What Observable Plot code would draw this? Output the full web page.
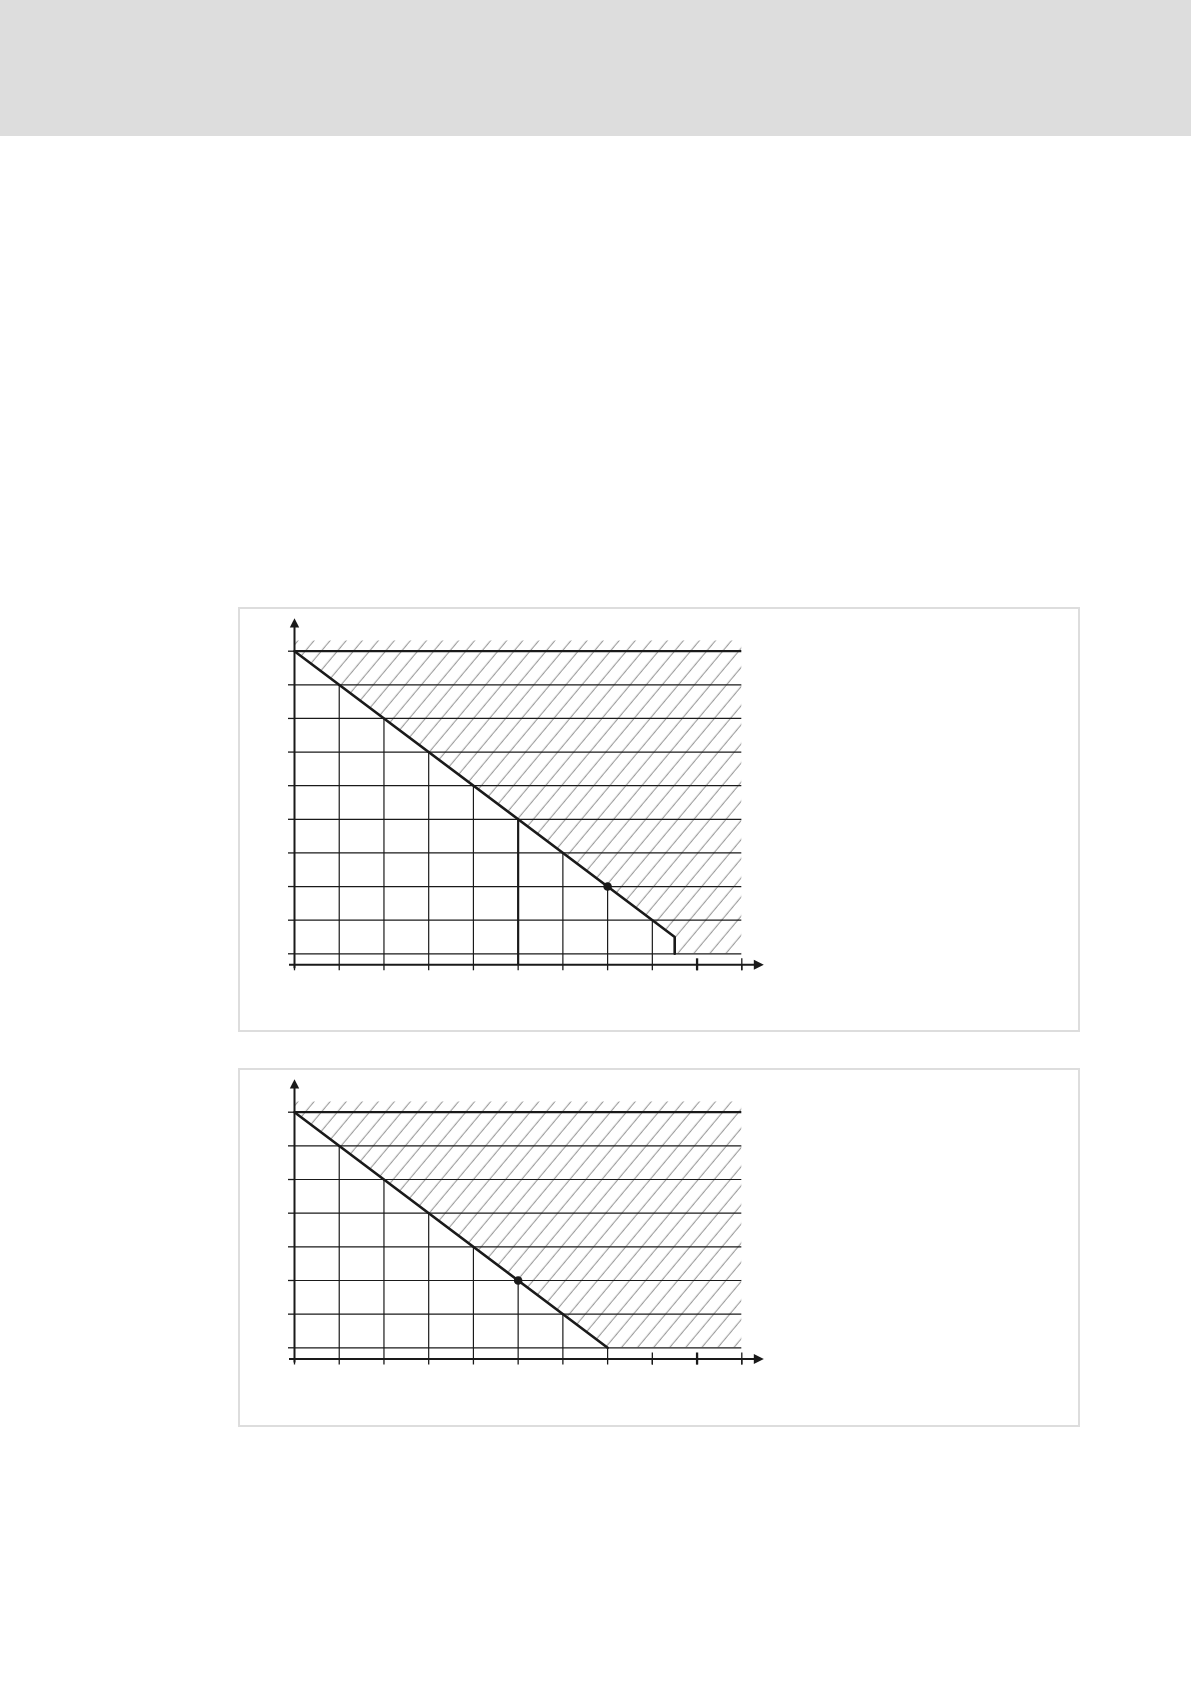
<!DOCTYPE html>
<html>
<head>
<meta charset="utf-8">
<script src="https://cdn.jsdelivr.net/npm/d3@7"></script>
<script src="https://cdn.jsdelivr.net/npm/@observablehq/plot@0.6"></script>
<style>
  html, body { margin: 0; padding: 0; background: #fff; }
  #page { position: relative; width: 1191px; height: 1685px; overflow: hidden; background: #fff; }
  #header { position: absolute; left: 0; top: 0; width: 1191px; height: 136px; background: #dddddd; }
  .panel { position: absolute; left: 238px; width: 842px; box-sizing: border-box; border: 2px solid #dddddd; background: #fff; }
  .panel svg { position: absolute; left: -2px; top: -2px; max-width: none; }
</style>
</head>
<body>
<div id="page">
  <div id="header"></div>
  <div class="panel" id="p1" style="top:607px;height:425px"></div>
  <div class="panel" id="p2" style="top:1068px;height:359px"></div>
</div>
<script>
// ---------- data ----------
const xTicks = [0, 1, 2, 3, 4, 5, 6, 7, 8, 9, 10];
const boldTick = 9;

// chart 1 (upper)
const c1Levels = [0, 1, 2, 3, 4, 5, 6, 7, 8, 9];
const c1Limit = [{x: 0, y: 9}, {x: 8.5, y: 0.5}, {x: 8.5, y: 0}];
const c1Hatch = [{x: 0, y: 9}, {x: 8.5, y: 0.5}, {x: 8.5, y: 0}, {x: 10, y: 0}];
const c1HatchTop = 9.3;
const c1Columns = [
  {x: 1, top: 8}, {x: 2, top: 7}, {x: 3, top: 6}, {x: 4, top: 5},
  {x: 6, top: 3}, {x: 7, top: 2}, {x: 8, top: 1}
];
const c1Marker = [{x: 5, top: 4}];
const c1Point = [{x: 7, y: 2}];
const c1TallTicks = [9, 10];

// chart 2 (lower)
const c2Levels = [0, 1, 2, 3, 4, 5, 6, 7];
const c2Limit = [{x: 0, y: 7}, {x: 7, y: 0}];
const c2Hatch = [{x: 0, y: 7}, {x: 7, y: 0}, {x: 10, y: 0}];
const c2HatchTop = 7.3;
const c2Columns = [
  {x: 1, top: 6}, {x: 2, top: 5}, {x: 3, top: 4}, {x: 4, top: 3},
  {x: 5, top: 2}, {x: 6, top: 1}, {x: 7, top: 0}
];
const c2Marker = [];
const c2Point = [{x: 5, y: 2}];
const c2TallTicks = [8, 9, 10];

// ---------- drawing ----------
const INK = "#1a1a1a";
const arrowRight = {draw(ctx) { ctx.moveTo(0, 0); ctx.lineTo(-10, -5); ctx.lineTo(-10, 5); ctx.closePath(); }};
const arrowUp = {draw(ctx) { ctx.moveTo(0, 0); ctx.lineTo(-4.7, 9.4); ctx.lineTo(4.7, 9.4); ctx.closePath(); }};

function drawChart(cfg) {
  const {levels, limit, hatch, hatchTop, columns, marker, point, tallTicks, yMax,
         height, yZeroPx, axisPx, id, host} = cfg;
  const W = 842, x0 = 56, x10 = 503.3, yTopPx = 43.7;
  const off = axisPx - yZeroPx;
  const svg = Plot.plot({
    width: W, height,
    marginLeft: x0, marginRight: W - x10, marginTop: yTopPx, marginBottom: height - axisPx,
    x: {domain: [0, 10], range: [x0, x10]},
    y: {domain: [0, yMax], range: [yZeroPx, yTopPx]},
    style: {background: "transparent", overflow: "visible"},
    marks: [
      Plot.area(hatch, {x1: "x", y1: "y", y2: hatchTop, fill: `url(#${id})`, stroke: null}),
      Plot.ruleY(levels.filter(v => v !== yMax), {x1: 0, x2: 10, stroke: INK, strokeWidth: 1.2}),
      Plot.ruleY([yMax], {x1: 0, x2: 10, stroke: INK, strokeWidth: 2.3}),
      Plot.ruleX(columns, {x: "x", y1: "top", y2: 0, insetBottom: -off, stroke: INK, strokeWidth: 1.2}),
      Plot.ruleX(marker, {x: "x", y1: "top", y2: 0, insetBottom: -off, stroke: INK, strokeWidth: 2.2}),
      Plot.axisX(xTicks, {tickSize: 6, tickFormat: () => "", label: null, stroke: INK, strokeWidth: 1.3}),
      Plot.axisY(levels, {tickSize: 6, tickFormat: () => "", label: null, stroke: INK, strokeWidth: 1.3}),
      Plot.ruleX(tallTicks, {y1: 0, y2: 0, dy: off, insetTop: -6, insetBottom: -6, stroke: INK,
                             strokeWidth: d => d === boldTick ? 2.3 : 1.3}),
      Plot.ruleX([0], {y1: yMax, y2: 0, insetTop: -26, insetBottom: -(off + 4), stroke: INK, strokeWidth: 2}),
      Plot.ruleY([0], {x1: 0, x2: 10, dy: off, insetLeft: -5, insetRight: -14, stroke: INK, strokeWidth: 2}),
      Plot.line(limit, {x: "x", y: "y", stroke: INK, strokeWidth: 2.6}),
      Plot.dot(point, {x: "x", y: "y", r: 4.3, fill: INK, stroke: null}),
      Plot.dot([{x: 10, y: 0}], {x: "x", y: "y", symbol: arrowRight, r: 5, fill: INK, stroke: null, dx: 22, dy: off}),
      Plot.dot([{x: 0, y: yMax}], {x: "x", y: "y", symbol: arrowUp, r: 5, fill: INK, stroke: null, dy: -33})
    ]
  });
  const defs = d3.select(svg).insert("defs", ":first-child");
  const pat = defs.append("pattern")
    .attr("id", id)
    .attr("patternUnits", "userSpaceOnUse")
    .attr("width", 12.3).attr("height", 12)
    .attr("patternTransform", "rotate(40)");
  pat.append("line")
    .attr("x1", 6).attr("x2", 6).attr("y1", -1).attr("y2", 13)
    .attr("stroke", "#707070").attr("stroke-width", 0.8);
  document.getElementById(host).appendChild(svg);
}

drawChart({levels: c1Levels, limit: c1Limit, hatch: c1Hatch, hatchTop: c1HatchTop,
  columns: c1Columns, marker: c1Marker, point: c1Point, tallTicks: c1TallTicks, yMax: 9,
  height: 425, yZeroPx: 346.3, axisPx: 357.3, id: "hatch1", host: "p1"});

drawChart({levels: c2Levels, limit: c2Limit, hatch: c2Hatch, hatchTop: c2HatchTop,
  columns: c2Columns, marker: c2Marker, point: c2Point, tallTicks: c2TallTicks, yMax: 7,
  height: 359, yZeroPx: 279.3, axisPx: 290.5, id: "hatch2", host: "p2"});
</script>
</body>
</html>
